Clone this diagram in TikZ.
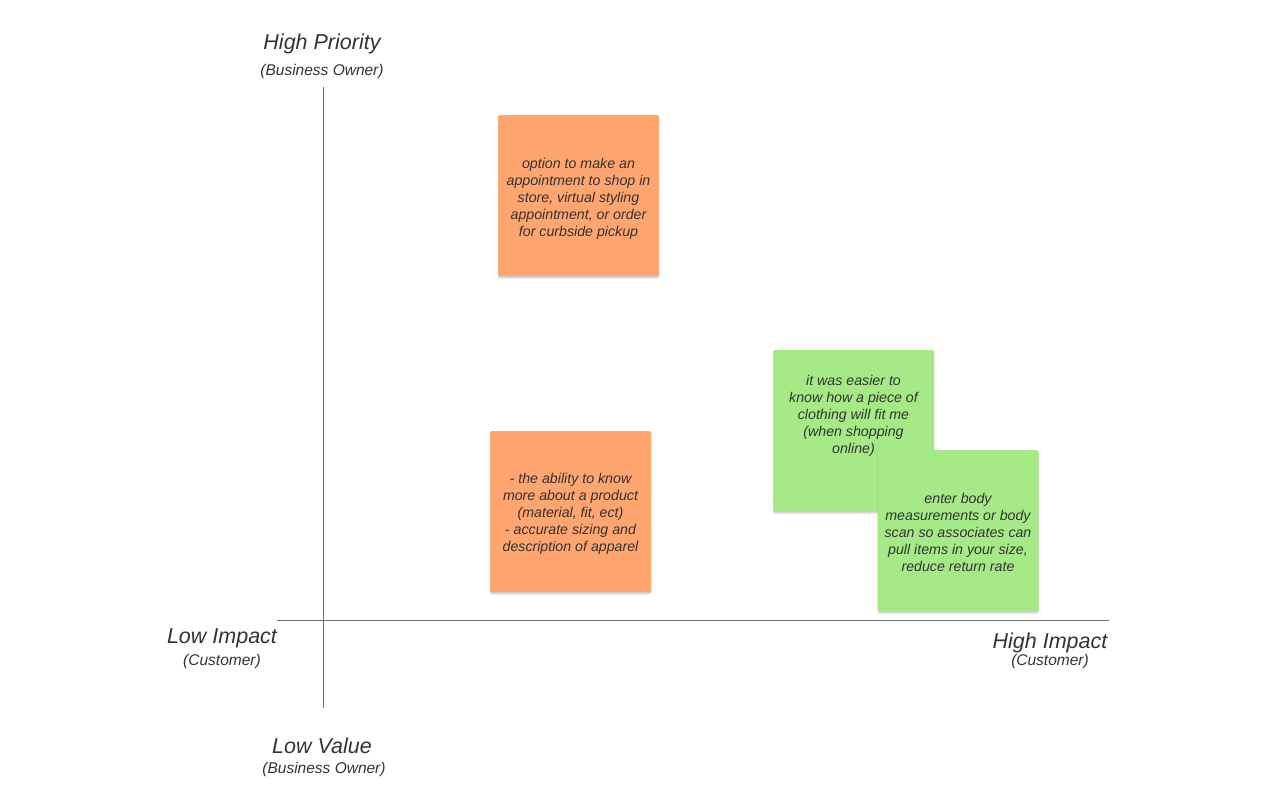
\documentclass[tikz,border=0pt]{standalone}
\usepackage{fontspec}
\setmainfont{Liberation Sans}
\usetikzlibrary{shadows}
\definecolor{noteorange}{RGB}{255,165,112}
\definecolor{notegreen}{RGB}{166,234,136}
\definecolor{txt}{RGB}{51,51,51}
\definecolor{axisgray}{RGB}{110,110,110}
\tikzset{
  note/.style={draw=none, rounded corners=2pt, minimum width=161pt, minimum height=161pt, inner sep=0pt,
    drop shadow={shadow xshift=0pt, shadow yshift=-3pt, opacity=0.08, fill=black},
    drop shadow={shadow xshift=0pt, shadow yshift=-1.5pt, opacity=0.12, fill=black}},
  notetext/.style={text=txt, align=center, font=\fontsize{14.2}{17}\selectfont\itshape, inner sep=0pt},
  biglabel/.style={text=txt, font=\fontsize{21.5}{25}\selectfont\itshape, inner sep=0pt},
  smalllabel/.style={text=txt, font=\fontsize{15.5}{18}\selectfont\itshape, inner sep=0pt},
  axisline/.style={draw=axisgray, line width=1pt}
}
\begin{document}
\begin{tikzpicture}[x=1pt, y=-1pt]
\useasboundingbox[fill=white] (0,0) rectangle (1276,808);
% axes
\coordinate (vt) at (323,87);
\coordinate (vb) at (323,708);
\coordinate (hl) at (277,620);
\coordinate (hr) at (1109,620);
\draw[axisline] (vt) -- (vb);
\draw[axisline] (hl) -- (hr);
% axis labels
\node[biglabel] (hp) at (322,44) {High Priority};
\node[smalllabel] (hpo) at (322,71) {(Business Owner)};
\node[biglabel] (li) at (222,638) {Low Impact};
\node[smalllabel] (lic) at (222,661) {(Customer)};
\node[biglabel] (hi) at (1050,643) {High Impact};
\node[smalllabel] (hic) at (1050,661) {(Customer)};
\node[biglabel] (lv) at (322,746) {Low Value};
\node[smalllabel] (lvo) at (324,769) {(Business Owner)};
% notes
\node[note, fill=noteorange] (o1) at (578.5,195.5) {};
\node[notetext] (o1t) at (578.5,198.5) {option to make an\\appointment to shop in\\store, virtual styling\\appointment, or order\\for curbside pickup};
\node[note, fill=noteorange] (o2) at (570.5,511.5) {};
\node[notetext] (o2t) at (570.5,513.5) {- the ability to know\\more about a product\\(material, fit, ect)\\- accurate sizing and\\description of apparel};
\node[note, fill=notegreen] (g1) at (853.5,430.5) {};
\node[notetext] (g1t) at (853.5,415.5) {it was easier to\\know how a piece of\\clothing will fit me\\(when shopping\\online)};
\node[note, fill=notegreen] (g2) at (958,530.5) {};
\node[notetext] (g2t) at (958,532.5) {enter body\\measurements or body\\scan so associates can\\pull items in your size,\\reduce return rate};
\end{tikzpicture}
\end{document}
